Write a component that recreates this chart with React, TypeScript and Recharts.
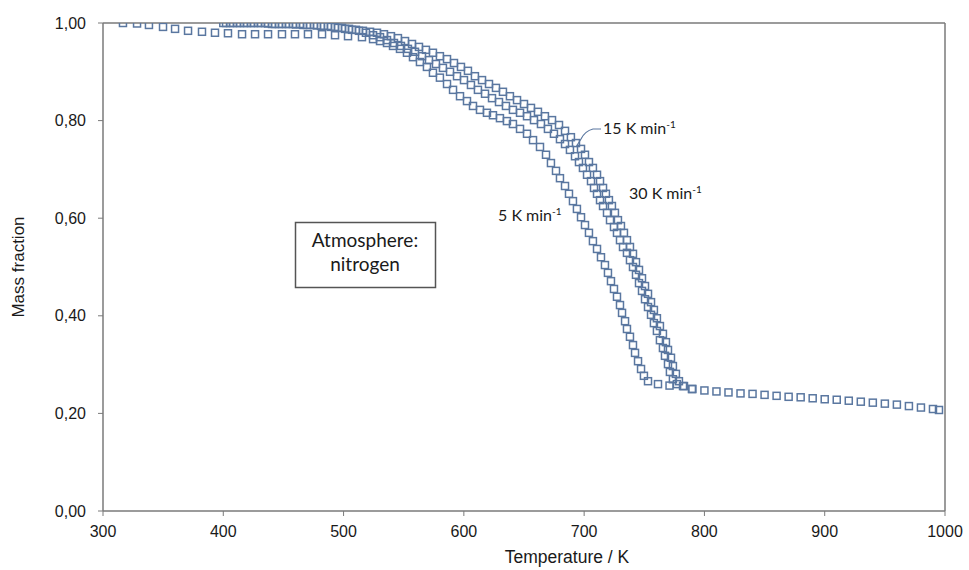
import React from 'react';
import { ScatterChart, Scatter, XAxis, YAxis, ReferenceLine } from 'recharts';

// Thermogravimetric curves: temperature (K) and remaining mass fraction
const temps5 = [
  316.6, 328.3, 338.2, 349.9, 359.9, 370.7, 382.3, 393.1, 403.9, 415.6,
  426.4, 437.2, 448.8, 459.6, 470.4, 482.1, 492.9, 503.7, 515.3, 524.5,
  530.3, 536.1, 541.1, 546.9, 552.7, 557.7, 563.5, 569.3, 574.3, 580.1,
  586.0, 591.0, 596.8, 602.6, 607.6, 613.4, 619.2, 624.2, 630.0, 635.8,
  640.8, 646.7, 652.5, 657.5, 663.3, 668.3, 672.4, 676.6, 679.9, 684.1,
  687.4, 690.7, 694.0, 697.4, 700.7, 704.0, 707.3, 710.7, 714.0, 717.3,
  719.8, 722.3, 724.8, 727.3, 729.8, 731.5, 734.0, 735.6, 738.1, 740.6,
  742.3, 744.8, 747.3, 749.7, 753.1, 761.4,
  771, 790, 820, 850, 880, 910, 940, 970, 995,
];
const mass5 = [
  1.0, 0.999, 0.996, 0.992, 0.988, 0.984, 0.982, 0.98, 0.979, 0.977,
  0.977, 0.977, 0.977, 0.977, 0.977, 0.977, 0.975, 0.973, 0.971, 0.967,
  0.963, 0.959, 0.953, 0.947, 0.939, 0.93, 0.92, 0.91, 0.898, 0.888,
  0.875, 0.863, 0.85, 0.84, 0.83, 0.822, 0.816, 0.811, 0.805, 0.799,
  0.793, 0.783, 0.773, 0.76, 0.746, 0.73, 0.713, 0.697, 0.682, 0.666,
  0.65, 0.635, 0.619, 0.602, 0.586, 0.57, 0.553, 0.537, 0.52, 0.504,
  0.488, 0.471, 0.455, 0.439, 0.422, 0.406, 0.389, 0.373, 0.357, 0.34,
  0.324, 0.307, 0.291, 0.277, 0.266, 0.26,
  0.257, 0.25, 0.243, 0.238, 0.233, 0.228, 0.222, 0.215, 0.207,
];

const temps15 = [
  402.3, 408.1, 413.9, 419.7, 425.5, 431.3, 437.2, 443.0, 448.8, 454.6,
  460.4, 466.3, 472.1, 477.9, 483.7, 489.5, 495.4, 501.2, 507.0, 512.8,
  518.6, 524.5, 530.3, 536.1, 541.9, 547.7, 553.5, 559.4, 565.2, 571.0,
  576.8, 582.6, 588.5, 594.3, 600.1, 605.9, 611.7, 617.6, 623.4, 629.2,
  635.0, 640.8, 646.7, 652.5, 658.3, 664.1, 669.9, 674.9, 679.9, 684.1,
  688.2, 692.4, 695.7, 699.0, 702.4, 705.7, 708.2, 710.7, 713.2, 715.7,
  719.0, 721.5, 724.8, 727.3, 729.8, 732.3, 735.6, 738.1, 740.6, 743.1,
  745.6, 748.1, 750.6, 753.1, 755.6, 758.0, 760.5, 763.0, 765.5, 767.2,
  769.7, 771.3, 773.8, 777.1, 782.2,
  800, 830, 860, 890, 920, 950, 980,
];
const mass15 = [
  1.0, 1.0, 1.0, 1.0, 1.0, 1.0, 0.999, 0.998, 0.998, 0.998,
  0.997, 0.996, 0.996, 0.995, 0.994, 0.992, 0.99, 0.988, 0.986, 0.984,
  0.98, 0.975, 0.971, 0.965, 0.959, 0.953, 0.947, 0.941, 0.932, 0.924,
  0.916, 0.908, 0.9, 0.891, 0.883, 0.873, 0.863, 0.855, 0.846, 0.838,
  0.83, 0.822, 0.816, 0.809, 0.801, 0.793, 0.783, 0.773, 0.762, 0.752,
  0.74, 0.727, 0.715, 0.703, 0.689, 0.676, 0.662, 0.65, 0.637, 0.625,
  0.611, 0.596, 0.582, 0.57, 0.555, 0.541, 0.529, 0.514, 0.5, 0.484,
  0.467, 0.451, 0.434, 0.418, 0.402, 0.385, 0.369, 0.35, 0.334, 0.318,
  0.301, 0.285, 0.27, 0.26, 0.256,
  0.247, 0.241, 0.236, 0.231, 0.226, 0.22, 0.212,
];

const temps30 = [
  400.0, 405.6, 411.4, 417.2, 423.0, 428.9, 434.7, 440.5, 446.3, 452.1,
  457.9, 463.8, 469.6, 475.4, 481.2, 487.0, 492.9, 498.7, 504.5, 510.3,
  516.1, 522.0, 527.8, 533.6, 539.4, 545.2, 551.1, 556.9, 562.7, 568.5,
  574.3, 580.1, 586.0, 591.8, 597.6, 603.4, 609.2, 615.1, 620.9, 626.7,
  632.5, 638.3, 644.2, 650.0, 655.8, 661.6, 667.4, 673.3, 679.1, 684.1,
  689.0, 693.2, 697.4, 700.7, 704.0, 707.3, 710.7, 713.2, 715.7, 718.1,
  720.6, 723.1, 725.6, 728.1, 730.6, 733.1, 735.6, 738.1, 740.6, 743.1,
  745.6, 748.1, 750.6, 753.1, 755.6, 758.0, 760.5, 763.0, 765.5, 768.0,
  769.7, 772.2, 773.8, 776.3, 778.8, 783.0, 789.6,
  810, 840, 870, 900, 930, 960, 990,
];
const mass30 = [
  1.0, 1.0, 1.0, 1.0, 1.0, 1.0, 1.0, 0.998, 0.998, 0.998,
  0.998, 0.998, 0.996, 0.996, 0.994, 0.994, 0.992, 0.99, 0.988, 0.986,
  0.984, 0.982, 0.98, 0.977, 0.973, 0.969, 0.963, 0.957, 0.951, 0.945,
  0.939, 0.932, 0.926, 0.918, 0.91, 0.902, 0.891, 0.883, 0.875, 0.867,
  0.859, 0.85, 0.842, 0.834, 0.826, 0.818, 0.809, 0.801, 0.791, 0.779,
  0.766, 0.754, 0.742, 0.73, 0.715, 0.703, 0.689, 0.676, 0.662, 0.65,
  0.637, 0.625, 0.611, 0.596, 0.584, 0.57, 0.555, 0.541, 0.527, 0.51,
  0.494, 0.477, 0.461, 0.445, 0.428, 0.412, 0.395, 0.379, 0.363, 0.346,
  0.33, 0.314, 0.297, 0.281, 0.266, 0.256, 0.25,
  0.245, 0.24, 0.234, 0.229, 0.224, 0.218, 0.209,
];

const xTicks = [300, 400, 500, 600, 700, 800, 900, 1000];
const yTicks = [0, 0.2, 0.4, 0.6, 0.8, 1.0];

const toPoints = (t: number[], m: number[]) => t.map((x, i) => ({ x, y: m[i] }));

const MARKER = '#5a77a0';
const AXIS = '#7a7a7a';
const TICK_FONT = { fontFamily: '"Liberation Sans", Arial, sans-serif', fontSize: 16, fill: '#1a1a1a' };
const NOTE_FONT = '"Lato", "Open Sans", sans-serif';

const HollowSquare = (props: any) => {
  const { cx, cy } = props;
  if (cx == null || cy == null) return null;
  return (
    <rect x={cx - 3.5} y={cy - 3.5} width={7} height={7} fill="none" stroke={MARKER} strokeWidth={1.5} />
  );
};

const YTitle = (props: any) => {
  const vb = props.viewBox || {};
  const cx = 20;
  const cy = vb.y + vb.height / 2;
  return (
    <text x={cx} y={cy} transform={`rotate(-90 ${cx} ${cy})`} textAnchor="middle" dominantBaseline="middle"
      style={{ ...TICK_FONT, fontSize: 17 }}>
      Mass fraction
    </text>
  );
};

const XTitle = (props: any) => {
  const vb = props.viewBox || {};
  return (
    <text x={vb.x + 464} y={563} textAnchor="middle" style={{ ...TICK_FONT, fontSize: 17.5 }}>
      Temperature / K
    </text>
  );
};

const RateLabel = ({ x, y, value }: { x: number; y: number; value: string }) => (
  <text x={x} y={y} fontFamily={NOTE_FONT} fontSize={16} fill="#1a1a1a">
    {value} K min
    <tspan fontSize={10} dy={-6}>-1</tspan>
  </text>
);

export default function App() {
  return (
    <div style={{ position: 'absolute', left: 0, top: 0, width: 969, height: 570, background: '#fff' }}>
      <ScatterChart width={969} height={570} margin={{ top: 23, right: 24, bottom: 19, left: 0 }}>
        <XAxis
          type="number"
          dataKey="x"
          domain={[300, 1000]}
          ticks={xTicks}
          allowDataOverflow
          height={40}
          axisLine={{ stroke: AXIS, strokeWidth: 1.5 }}
          tickLine={{ stroke: AXIS, strokeWidth: 1 }}
          tickSize={5}
          tickMargin={10}
          tick={TICK_FONT}
          label={<XTitle />}
        />
        <YAxis
          type="number"
          dataKey="y"
          domain={[0, 1]}
          ticks={yTicks}
          allowDataOverflow
          width={103}
          axisLine={{ stroke: AXIS, strokeWidth: 1.5 }}
          tickLine={{ stroke: AXIS, strokeWidth: 1 }}
          tickSize={5}
          tickMargin={12}
          tick={TICK_FONT}
          tickFormatter={(v: number) => v.toFixed(2).replace('.', ',')}
          label={<YTitle />}
        />
        <ReferenceLine y={1} stroke={AXIS} strokeWidth={1.5} />
        <ReferenceLine x={1000} stroke={AXIS} strokeWidth={1.5} />
        <Scatter name="5 K/min" data={toPoints(temps5, mass5)} shape={<HollowSquare />} isAnimationActive={false} />
        <Scatter name="15 K/min" data={toPoints(temps15, mass15)} shape={<HollowSquare />} isAnimationActive={false} />
        <Scatter name="30 K/min" data={toPoints(temps30, mass30)} shape={<HollowSquare />} isAnimationActive={false} />
      </ScatterChart>
      <svg width={969} height={570} style={{ position: 'absolute', left: 0, top: 0, pointerEvents: 'none' }}>
        <path d="M 601 129 L 593 129 Q 585 131 581 139 L 576 147" fill="none" stroke={MARKER} strokeWidth={1.2} />
        <RateLabel x={603} y={134} value="15" />
        <RateLabel x={629} y={199} value="30" />
        <RateLabel x={498} y={221} value="5" />
        <rect x={295.5} y={222.5} width={140} height={65} fill="#fff" stroke="#555" strokeWidth={1.5} />
        <text x={365} y={247} textAnchor="middle" fontFamily={NOTE_FONT} fontSize={19} fill="#1a1a1a">Atmosphere:</text>
        <text x={365} y={271} textAnchor="middle" fontFamily={NOTE_FONT} fontSize={19} fill="#1a1a1a">nitrogen</text>
      </svg>
    </div>
  );
}
